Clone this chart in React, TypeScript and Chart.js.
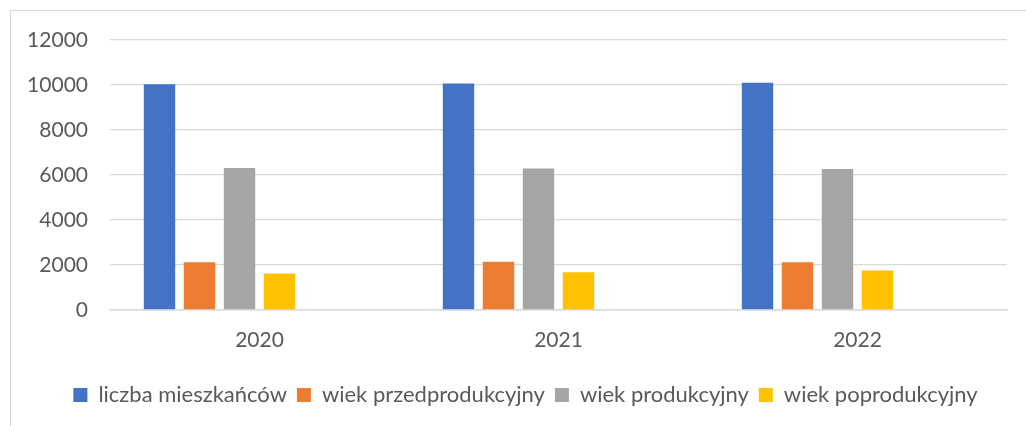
import React, { useEffect, useRef } from "react";
import { Chart, registerables } from "chart.js";

Chart.register(...registerables);

const categories = ["2020", "2021", "2022"];
const liczbaMieszkancow = [10030, 10070, 10100];
const wiekPrzedprodukcyjny = [2120, 2135, 2120];
const wiekProdukcyjny = [6305, 6290, 6260];
const wiekPoprodukcyjny = [1620, 1675, 1750];
const emptySeries = [null, null, null];

const seriesLabels = [
  "liczba mieszkańców",
  "wiek przedprodukcyjny",
  "wiek produkcyjny",
  "wiek poprodukcyjny",
];
const seriesColors = ["#4472C4", "#ED7D31", "#A5A5A5", "#FFC000"];

const FONT = "Lato, 'Liberation Sans', sans-serif";
const TEXT = "#595959";
const GRID = "#D9D9D9";

// The legend in the original is centred on the whole frame, not the plot; nudge its box.
const legendShift = {
  id: "legendShift",
  afterLayout(chart: any) {
    if (chart.legend) {
      chart.legend.left = 44;
    }
  },
};

export default function App() {
  const ref = useRef<HTMLCanvasElement | null>(null);

  useEffect(() => {
    if (!ref.current) return;
    const values = [liczbaMieszkancow, wiekPrzedprodukcyjny, wiekProdukcyjny, wiekPoprodukcyjny];
    const datasets: any[] = values.map((d, i) => ({
      label: seriesLabels[i],
      data: d,
      backgroundColor: seriesColors[i],
      borderWidth: 0,
      categoryPercentage: 0.8027,
      barPercentage: 0.785,
    }));
    // two empty series that reserve slots in each group, as in the original
    datasets.push(
      { label: "", data: emptySeries, backgroundColor: "transparent", categoryPercentage: 0.8027, barPercentage: 0.785 },
      { label: "", data: emptySeries, backgroundColor: "transparent", categoryPercentage: 0.8027, barPercentage: 0.785 }
    );

    const chart = new Chart(ref.current, {
      type: "bar",
      data: { labels: categories, datasets },
      plugins: [legendShift],
      options: {
        animation: false,
        responsive: false,
        maintainAspectRatio: false,
        layout: { padding: { left: 0, right: 19, top: 40, bottom: 10 } },
        plugins: {
          tooltip: { enabled: false },
          legend: {
            position: "bottom",
            labels: {
              filter: (item: any) => item.text !== "",
              boxWidth: 14,
              boxHeight: 14,
              padding: 10,
              color: TEXT,
              font: { family: FONT, size: 22 },
            },
          },
        },
        scales: {
          x: {
            grid: { display: false, drawTicks: false },
            border: { display: true, color: GRID, width: 1.5 },
            ticks: { color: TEXT, font: { family: FONT, size: 21 }, padding: 18 },
            afterFit: (s: any) => {
              s.height += 3;
            },
          },
          y: {
            min: 0,
            max: 12000,
            afterFit: (s: any) => {
              s.width = 110;
            },
            grid: { color: GRID, lineWidth: 1.2, drawTicks: false },
            border: { display: false },
            ticks: {
              stepSize: 2000,
              color: TEXT,
              font: { family: FONT, size: 21 },
              padding: 22,
              callback: (v: any) => String(v),
            },
          },
        },
      },
    });
    return () => chart.destroy();
  }, []);

  return (
    <div
      style={{
        position: "absolute",
        left: 0,
        top: 0,
        width: 1026,
        height: 426,
        overflow: "hidden",
        background: "#fff",
      }}
    >
      <div
        style={{
          position: "absolute",
          left: 10,
          top: 10,
          width: 1100,
          height: 500,
          border: "1px solid #D9D9D9",
        }}
      />
      <canvas ref={ref} width={1026} height={426} style={{ position: "absolute", left: 0, top: 0 }} />
    </div>
  );
}
